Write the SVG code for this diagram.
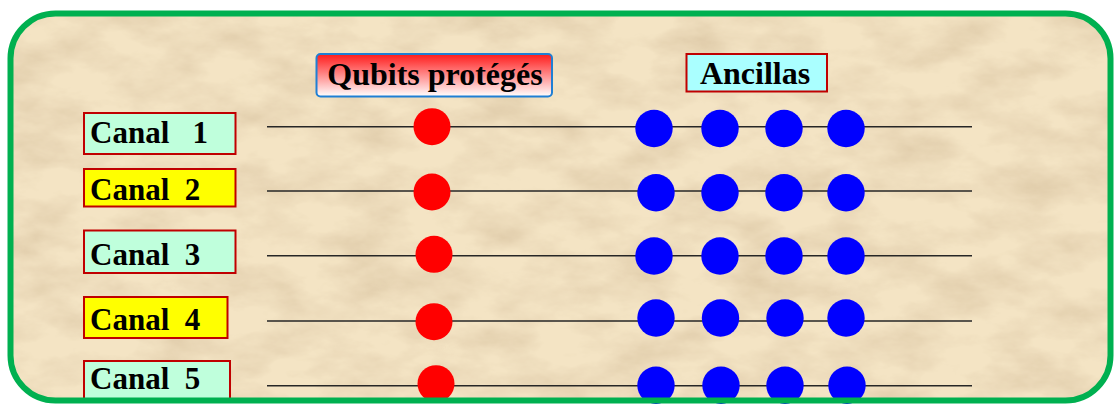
<svg xmlns="http://www.w3.org/2000/svg" width="1114" height="405" viewBox="0 0 1114 405">
  <defs>
    <linearGradient id="redGrad" x1="0" y1="0" x2="0" y2="1">
      <stop offset="0" stop-color="#ff1a1a"/>
      <stop offset="1" stop-color="#ffffff"/>
    </linearGradient>
    <filter id="parchment" x="0" y="0" width="100%" height="100%" filterUnits="objectBoundingBox">
      <feTurbulence type="fractalNoise" baseFrequency="0.015 0.03" numOctaves="5" seed="7" result="n"/>
      <feColorMatrix in="n" type="matrix" values="0 0 0 0 0.74  0 0 0 0 0.6  0 0 0 0 0.4  1.8 0 0 0 -0.65" result="tint"/>
      <feComposite in="tint" in2="SourceGraphic" operator="over"/>
    </filter>
    <clipPath id="frameClip">
      <rect x="10.5" y="13.5" width="1100" height="387" rx="45" ry="45"/>
    </clipPath>
    <style>
      .lbl { font-family: "Liberation Serif", "Times New Roman", serif; font-weight: bold; font-size: 31px; fill: #000; white-space: pre; }
      .hdr { font-family: "Liberation Serif", "Times New Roman", serif; font-weight: bold; font-size: 32px; fill: #000; }
      .box { stroke: #c00000; stroke-width: 2; }
      .mint { fill: #bfffdc; }
      .yel { fill: #ffff00; }
      .wire { stroke: #262626; stroke-width: 1.5; fill: none; }
      .q { fill: #ff0000; }
      .a { fill: #0000ff; }
    </style>
  </defs>

  <rect x="0" y="0" width="1114" height="405" fill="#ffffff"/>
  <g clip-path="url(#frameClip)">
    <rect x="8" y="10" width="1106" height="395" fill="#f4e4c4" filter="url(#parchment)"/>
  </g>

  <g id="headers">
    <g id="hdr-qubits">
      <rect x="316.5" y="54" width="235.5" height="42.5" rx="4" fill="url(#redGrad)" stroke="#1f7fd4" stroke-width="2"/>
      <text class="hdr" x="435" y="85" text-anchor="middle">Qubits protégés</text>
    </g>
    <g id="hdr-ancillas">
      <rect x="686.5" y="54" width="140.5" height="37.5" fill="#aaffff" class="box"/>
      <text class="hdr" x="755" y="83.5" text-anchor="middle">Ancillas</text>
    </g>
  </g>

  <g id="labels">
    <g id="canal1">
      <rect x="84" y="113" width="151.5" height="41" class="box mint"/>
      <text class="lbl" x="90" y="142.5">Canal   1</text>
    </g>
    <g id="canal2">
      <rect x="84" y="169" width="151.5" height="37.5" class="box yel"/>
      <text class="lbl" x="90" y="199.5">Canal  2</text>
    </g>
    <g id="canal3">
      <rect x="84" y="230.5" width="151.5" height="42.5" class="box mint"/>
      <text class="lbl" x="90" y="265">Canal  3</text>
    </g>
    <g id="canal4">
      <rect x="84" y="297" width="143.5" height="41" class="box yel"/>
      <text class="lbl" x="90" y="330">Canal  4</text>
    </g>
    <g id="canal5">
      <rect x="84" y="361" width="146" height="38" class="box mint"/>
      <text class="lbl" x="90" y="388.5">Canal  5</text>
    </g>
  </g>

  <g id="connectors">
    <line class="wire" x1="267" y1="126.7" x2="972" y2="126.7"/>
    <line class="wire" x1="267" y1="191" x2="972" y2="191"/>
    <line class="wire" x1="267" y1="255.7" x2="972" y2="255.7"/>
    <line class="wire" x1="267" y1="321" x2="972" y2="321"/>
    <line class="wire" x1="267" y1="385.7" x2="972" y2="385.7"/>
  </g>

  <g id="qubits">
    <circle id="q1" class="q" cx="432" cy="126.7" r="18.5"/>
    <circle id="q2" class="q" cx="432" cy="192" r="18.5"/>
    <circle id="q3" class="q" cx="434" cy="254.3" r="18.5"/>
    <circle id="q4" class="q" cx="434" cy="321.7" r="18.5"/>
    <circle id="q5" class="q" cx="436" cy="383.7" r="18.5"/>
  </g>

  <g id="ancillas">
    <g id="anc-row1">
      <circle class="a" cx="654" cy="128.5" r="18.7"/>
      <circle class="a" cx="720" cy="128.5" r="18.7"/>
      <circle class="a" cx="784" cy="128.5" r="18.7"/>
      <circle class="a" cx="846" cy="128.5" r="18.7"/>
    </g>
    <g id="anc-row2">
      <circle class="a" cx="656" cy="192.7" r="18.7"/>
      <circle class="a" cx="720" cy="192.7" r="18.7"/>
      <circle class="a" cx="784" cy="192.7" r="18.7"/>
      <circle class="a" cx="846" cy="192.7" r="18.7"/>
    </g>
    <g id="anc-row3">
      <circle class="a" cx="654" cy="256" r="18.7"/>
      <circle class="a" cx="720" cy="256" r="18.7"/>
      <circle class="a" cx="784" cy="256" r="18.7"/>
      <circle class="a" cx="846" cy="256" r="18.7"/>
    </g>
    <g id="anc-row4">
      <circle class="a" cx="656" cy="318" r="18.7"/>
      <circle class="a" cx="720.5" cy="318" r="18.7"/>
      <circle class="a" cx="785" cy="318" r="18.7"/>
      <circle class="a" cx="846" cy="318" r="18.7"/>
    </g>
    <g id="anc-row5">
      <circle class="a" cx="656" cy="385.3" r="18.7"/>
      <circle class="a" cx="721" cy="385.3" r="18.7"/>
      <circle class="a" cx="785" cy="385.3" r="18.7"/>
      <circle class="a" cx="847" cy="385.3" r="18.7"/>
    </g>
  </g>

  <rect id="frame" x="10.5" y="13.5" width="1100" height="387" rx="45" ry="45" fill="none" stroke="#00b050" stroke-width="6"/>
</svg>
